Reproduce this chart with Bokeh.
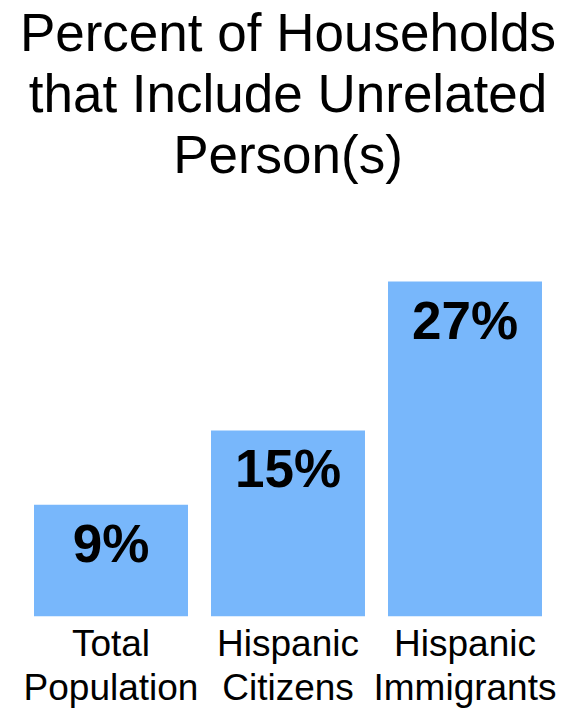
from bokeh.plotting import figure
from bokeh.models import FactorRange, Range1d, ColumnDataSource, Title
from bokeh.core.properties import value
from bokeh.embed import file_html
from bokeh.resources import INLINE

# ---- data ----
categories = ["Total\nPopulation", "Hispanic\nCitizens", "Hispanic\nImmigrants"]
percent = [9, 15, 27]
percent_labels = ["9%", "15%", "27%"]
title_lines = ["Percent of Households", "that Include Unrelated", "Person(s)"]

BAR_COLOR = "#78b7fb"
FONT = "Liberation Sans"

source = ColumnDataSource(dict(cat=categories, pct=percent, lab=percent_labels))

p = figure(
    width=579, height=712,
    x_range=FactorRange(*categories, range_padding=0),
    y_range=Range1d(0, 34.9),
    output_backend="svg", toolbar_location=None,
    min_border_left=22, min_border_right=26,
    min_border_bottom=96, min_border_top=180,
)

# title lines: added nearest-to-frame first
for i in (2, 1, 0):
    t = Title(text=title_lines[i], align="center", text_font=FONT,
              text_font_size="53px", text_font_style="normal",
              text_color="black", text_line_height=0.98,
              standoff=0)
    p.add_layout(t, "above")

p.vbar(x="cat", top="pct", width=0.87, source=source,
       fill_color=BAR_COLOR, line_color=None)

p.text(x="cat", y="pct", text="lab", source=source,
       text_align="center", text_baseline="top", y_offset=9,
       text_font=value(FONT), text_font_style="bold",
       text_font_size="53px", text_color="black")

p.yaxis.visible = False
p.grid.visible = False
p.outline_line_color = None
p.xaxis.axis_line_color = None
p.xaxis.major_tick_line_color = None
p.xaxis.minor_tick_line_color = None
p.xaxis.major_tick_out = 0
p.xaxis.major_tick_in = 0
p.xaxis.major_label_standoff = 6
p.xaxis.major_label_text_font = FONT
p.xaxis.major_label_text_font_size = "37px"
p.xaxis.major_label_text_color = "black"
p.xaxis.major_label_text_line_height = 1.09

open("out.html", "w").write(file_html(p, INLINE))
